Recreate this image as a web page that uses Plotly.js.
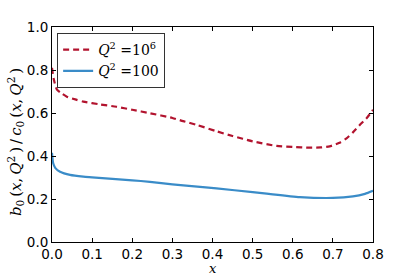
<!DOCTYPE html>
<html>
<head>
<meta charset="utf-8">
<script src="https://cdn.plot.ly/plotly-3.0.1.min.js"></script>
<style>html,body{margin:0;padding:0;background:#fff;}#chart{width:415px;height:277px;}</style>
</head>
<body>
<div id="chart"></div>
<script>
const xHigh = [0.0, 0.004, 0.012, 0.025, 0.037, 0.06, 0.078, 0.12, 0.161, 0.2, 0.244, 0.3, 0.327, 0.36, 0.41, 0.45, 0.5, 0.56, 0.6, 0.642, 0.67, 0.692, 0.715, 0.734, 0.75, 0.767, 0.785, 0.8];
const yHigh = [0.81, 0.76, 0.71, 0.69, 0.676, 0.662, 0.653, 0.64, 0.629, 0.615, 0.599, 0.577, 0.562, 0.545, 0.515, 0.493, 0.468, 0.447, 0.442, 0.439, 0.44, 0.445, 0.46, 0.482, 0.51, 0.544, 0.578, 0.615];
const xLow = [0.0, 0.003, 0.008, 0.02, 0.045, 0.078, 0.1, 0.2, 0.244, 0.3, 0.369, 0.41, 0.5, 0.535, 0.6175, 0.7, 0.75, 0.78, 0.8];
const yLow = [0.415, 0.366, 0.345, 0.327, 0.312, 0.304, 0.301, 0.287, 0.28, 0.268, 0.256, 0.249, 0.232, 0.225, 0.209, 0.205, 0.212, 0.224, 0.238];
const nameHigh = '<i>Q</i><sup>2</sup> =10<sup>6</sup>';
const nameLow = '<i>Q</i><sup>2</sup> =100';
const xTicks = [0.0, 0.1, 0.2, 0.3, 0.4, 0.5, 0.6, 0.7, 0.8];
const yTicks = [0.0, 0.2, 0.4, 0.6, 0.8, 1.0];
const xTitle = '<i>x</i>';
const yTitle = '<i>b</i><sub>0</sub>\u2009(<i>x</i>,\u2009<i>Q</i><sup>2</sup>\u2009)\u2009/\u2009<i>c</i><sub>0</sub>\u2009(<i>x</i>,\u2009<i>Q</i><sup>2</sup>\u2009)';

const traces = [
  {x: xHigh, y: yHigh, name: nameHigh, mode: 'lines',
   line: {color: '#b2132e', width: 2.2, dash: '6px,4px', shape: 'spline', smoothing: 0.6}},
  {x: xLow, y: yLow, name: nameLow, mode: 'lines',
   line: {color: '#3a8cc8', width: 2.2, shape: 'spline', smoothing: 0.6}}
];

const axisCommon = {
  showline: true, mirror: 'ticks', linecolor: '#000', linewidth: 1,
  ticks: 'inside', ticklen: 4, tickcolor: '#000', tickwidth: 1,
  showgrid: false, zeroline: false, tickformat: '.1f',
  tickfont: {family: 'DejaVu Sans', size: 13.5, color: '#000'}
};

const layout = {
  width: 415, height: 277,
  margin: {l: 52, r: 42, t: 27, b: 35},
  paper_bgcolor: '#fff', plot_bgcolor: '#fff',
  showlegend: true,
  legend: {x: 0.016, y: 0.972, xanchor: 'left', yanchor: 'top',
    bordercolor: '#333', borderwidth: 1, bgcolor: '#fff',
    font: {family: 'DejaVu Serif', size: 14, color: '#000'},
    itemwidth: 30},
  xaxis: Object.assign({}, axisCommon, {range: [0, 0.8], tickvals: xTicks}),
  yaxis: Object.assign({}, axisCommon, {range: [0, 1.0], tickvals: yTicks}),
  annotations: [
    {text: xTitle, xref: 'paper', yref: 'paper', x: 0.5, y: -0.162, xanchor: 'center', yanchor: 'bottom',
     borderpad: 0, showarrow: false, font: {family: 'DejaVu Serif', size: 13, color: '#000'}},
    {text: yTitle, xref: 'paper', yref: 'paper', x: -0.115, y: 0.465, xanchor: 'center', yanchor: 'middle',
     textangle: -90, showarrow: false, font: {family: 'DejaVu Serif', size: 15, color: '#000'}}
  ]
};

Plotly.newPlot('chart', traces, layout, {displayModeBar: false, staticPlot: true});
</script>
</body>
</html>
